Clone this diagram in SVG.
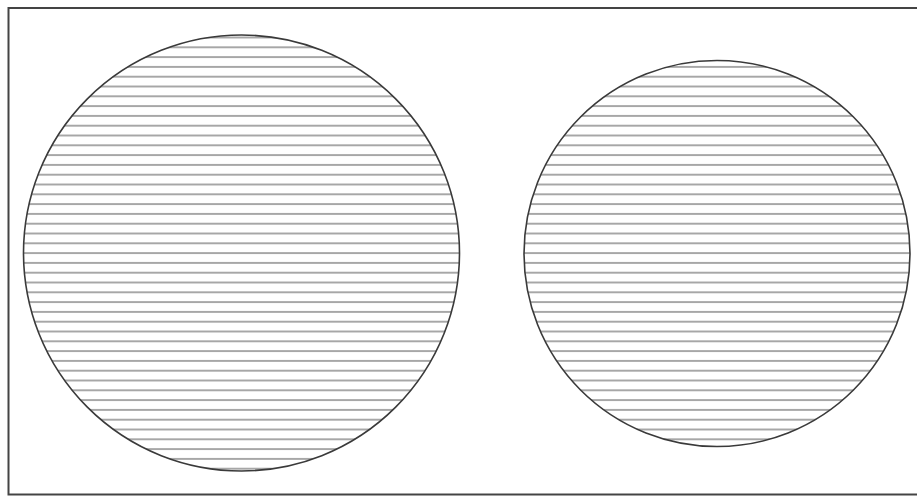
<svg xmlns="http://www.w3.org/2000/svg" width="917" height="498" viewBox="0 0 917 498">
  <defs>
    <pattern id="hatch" patternUnits="userSpaceOnUse" x="0" y="42.4" width="917" height="9.8">
      <line x1="0" y1="4.9" x2="917" y2="4.9" stroke="#8a8a8a" stroke-width="1.3"/>
    </pattern>
  </defs>
  <style>
    .frame { fill: #ffffff; stroke: #444444; stroke-width: 2; }
    .disc { fill: url(#hatch); stroke: #3a3a3a; stroke-width: 1.6; }
  </style>
  <rect width="917" height="498" fill="#ffffff"/>
  <rect class="frame" x="8.5" y="8" width="920" height="486.5"/>
  <g id="left-circle">
    <circle class="disc" cx="241.5" cy="253" r="218"/>
  </g>
  <g id="right-circle">
    <circle class="disc" cx="717" cy="253.5" r="193"/>
  </g>
</svg>
